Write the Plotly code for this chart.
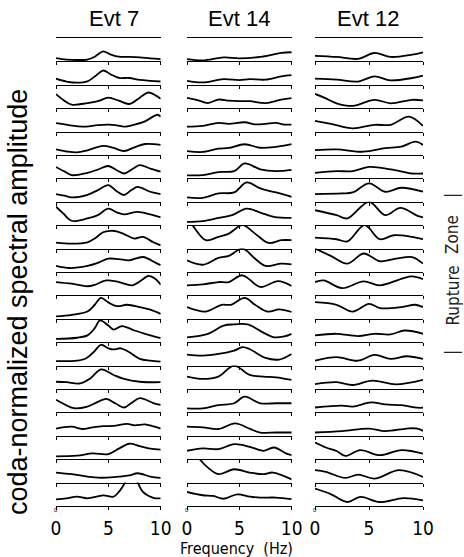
import plotly.graph_objects as go

# ---------------- data (frequency Hz, normalized amplitude per panel) ----------------
events = ["Evt 7", "Evt 14", "Evt 12"]
freq_ticks = [0, 5, 10]
freq_tick_labels = ["0", "5", "10"]

evt7 = [
    [(0,.14),(1,.08),(2,.06),(3,.08),(3.7,.2),(4.5,.43),(5.2,.3),(6,.2),(7,.19),(8,.17),(9,.13),(10,.1)],
    [(0,.26),(1,.14),(2,.09),(3,.15),(3.7,.35),(4.5,.61),(5.2,.45),(6,.3),(7,.29),(8,.21),(9,.17),(10,.14)],
    [(0,.6),(0.7,.35),(1.5,.15),(3,.22),(4,.3),(5,.45),(6,.32),(7,.18),(8,.45),(8.8,.67),(9.5,.55),(10,.4)],
    [(0,.36),(1.2,.28),(2.5,.21),(4,.28),(5,.3),(5.8,.27),(6.5,.21),(7.5,.3),(8.5,.44),(9.7,.72),(10,.63)],
    [(0,.24),(1,.15),(2,.11),(3,.2),(4.5,.39),(5.5,.3),(6.5,.17),(7.5,.33),(8.5,.47),(10,.43)],
    [(0,.49),(0.8,.3),(1.5,.14),(3,.24),(4,.38),(5,.53),(5.8,.35),(6.5,.21),(7.3,.4),(8,.57),(9,.42),(10,.29)],
    [(0,.33),(0.8,.26),(1.5,.19),(3,.3),(4,.5),(5,.71),(5.8,.45),(6.5,.29),(7.2,.5),(7.8,.64),(9,.43),(10,.33)],
    [(0,.79),(0.7,.5),(1.5,.19),(3,.29),(4,.43),(5,.71),(5.8,.55),(6.5,.46),(7.8,.57),(9,.46),(10,.33)],
    [(0,.26),(1.5,.21),(3,.27),(3.7,.43),(4.5,.7),(5.2,.76),(5.8,.74),(6.5,.62),(7.5,.43),(8.3,.5),(9.3,.27),(10,.14)],
    [(0,.26),(1.3,.17),(3,.26),(4,.39),(5,.57),(6,.55),(7,.5),(8.3,.64),(9.5,.4),(10,.29)],
    [(0,.57),(1.5,.5),(3,.39),(3.7,.45),(4.8,.64),(6,.57),(7.3,.43),(8.2,.66),(8.8,.83),(9.5,.7),(10,.46)],
    [(0,.1),(1.5,.17),(3,.31),(3.7,.6),(4.3,.89),(5,.7),(5.8,.54),(6.8,.6),(8,.5),(9,.39),(10,.21)],
    [(0,.14),(2,.19),(3,.29),(3.7,.6),(4.2,.93),(5,.71),(5.5,.54),(6.3,.69),(7.5,.5),(8.5,.36),(10,.17)],
    [(0,.19),(2,.21),(2.8,.29),(3.6,.58),(4.3,.89),(5,.74),(5.5,.69),(6.2,.74),(7,.57),(8,.29),(9,.21),(10,.17)],
    [(0,.31),(1,.29),(2.3,.24),(3.3,.46),(4.3,.84),(5.5,.6),(6.5,.43),(8,.31),(10,.29)],
    [(0,.54),(0.8,.35),(1.7,.18),(3,.25),(4,.45),(4.8,.58),(5.7,.38),(6.5,.21),(7.2,.4),(8,.61),(9.3,.4),(10,.32)],
    [(0,.31),(1.5,.39),(2.5,.29),(3.5,.36),(4.5,.41),(5.5,.42),(6.8,.51),(7.5,.45),(8.5,.49),(9.3,.4),(10,.31)],
    [(0,.12),(2,.15),(3.5,.25),(5,.22),(6,.45),(7,.66),(8,.56),(9,.45),(10,.41)],
    [(0,.43),(1.5,.36),(3,.26),(4,.21),(5.5,.23),(7,.31),(7.8,.4),(9,.26),(10,.2)],
    [(0,.28),(1,.33),(2,.4),(3,.33),(4.5,.45),(5.5,.4),(6,.6),(6.6,1.0),(7.2,1.5),(7.8,1.0),(8.3,.6),(9.3,.35),(10,.33)],
]

evt14 = [
    [(0,.1),(1.5,.04),(3.5,.17),(5,.13),(7,.19),(9,.36),(10,.39)],
    [(0,.17),(1.5,.1),(3.5,.24),(5,.2),(6,.24),(7.5,.22),(9,.36),(10,.41)],
    [(0,.44),(1,.35),(2,.22),(3,.37),(4,.32),(5,.3),(6,.3),(7.5,.22),(9,.37),(10,.43)],
    [(0,.21),(1.5,.24),(3,.37),(4,.33),(5.5,.4),(6.5,.31),(7.5,.33),(8.5,.37),(9.3,.3),(10,.3)],
    [(0,.17),(1.5,.13),(3,.27),(4,.3),(5.5,.46),(7,.31),(8.5,.35),(10,.46)],
    [(0,.13),(1.5,.14),(3,.27),(4.5,.31),(5.5,.64),(7,.39),(8.5,.31),(10,.36)],
    [(0,.19),(1.5,.17),(3,.36),(4.5,.4),(5.7,.83),(7,.57),(8.5,.4),(10,.21)],
    [(0,.14),(1.5,.17),(3,.31),(4.3,.43),(5.7,.71),(7,.54),(8.3,.36),(10,.31)],
    [(0,1.3),(0.6,.95),(1.8,.36),(3,.5),(4,.64),(5.3,1.0),(6.5,.64),(7.8,.24),(9,.36),(10,.36)],
    [(0,.5),(1.5,.31),(3,.6),(4,.69),(5.3,1.0),(6.5,.57),(7.5,.26),(9,.36),(10,.33)],
    [(0,.43),(1.5,.47),(3,.57),(4,.57),(5.3,.86),(7,.36),(8.7,.61),(10,.4)],
    [(0,.5),(1.8,.31),(3.3,.6),(4.2,.6),(5.5,.89),(6.5,.6),(7.7,.31),(8.8,.4),(10,.29)],
    [(0,.21),(2,.36),(3.5,.71),(4.5,.76),(5.8,.76),(7.2,.43),(8.3,.21),(9.3,.25),(10,.36)],
    [(0,.47),(1.5,.43),(3,.5),(4.5,.64),(5.3,.79),(6,.7),(7.5,.33),(8.8,.26),(10,.5)],
    [(0,.53),(1.5,.43),(3,.53),(4.5,1.0),(6,.6),(7.3,.53),(8.5,.5),(10,.39)],
    [(0,.17),(1.5,.17),(3,.31),(4.5,.39),(5.5,.67),(7,.39),(8.5,.39),(10,.39)],
    [(0,.39),(1.5,.36),(3,.29),(4.6,.53),(6,.3),(7,.14),(8.5,.14),(10,.14)],
    [(0,.36),(1.5,.46),(3,.43),(4.5,.64),(6,.53),(7.3,.36),(8.3,.5),(9.5,.24),(10,.17)],
    [(0,1.7),(0.7,1.3),(1.2,1.0),(2,.64),(3,.36),(4.5,.57),(6,.43),(7.3,.36),(8.2,.43),(10,.14)],
    [(0,.6),(1.5,.46),(2.5,.43),(3.5,.31),(4.8,.5),(6,.4),(7,.36),(8.5,.36),(10,.29)],
]

evt12 = [
    [(0,.24),(2,.19),(4,.11),(5.5,.36),(7,.19),(9,.29),(10,.39)],
    [(0,.26),(2,.22),(4,.14),(5.5,.36),(7,.19),(9,.29),(10,.39)],
    [(0,.61),(1,.42),(2,.21),(3.5,.1),(5.5,.36),(7,.21),(9,.36),(10,.33)],
    [(0,.46),(1.5,.33),(3.5,.14),(5.5,.29),(7,.29),(8.7,.64),(10,.24)],
    [(0,.21),(2,.24),(4.5,.14),(6.5,.29),(8,.36),(9.3,.57),(10,.43)],
    [(0,.24),(2,.31),(3.5,.31),(5,.49),(7,.39),(9,.21),(10,.21)],
    [(0,.33),(2.5,.36),(3.5,.4),(5,.79),(6.5,.43),(8,.6),(10,.43)],
    [(0,.64),(2,.43),(3,.29),(5,1.0),(6.5,.43),(7.9,.74),(9.5,.4),(10,.33)],
    [(0,.47),(2,.4),(3,.31),(4.6,1.0),(6,.4),(7.3,.57),(9,.5),(10,.4)],
    [(0,1.0),(1.5,.68),(3,.36),(4.5,.79),(6,.46),(7.5,.57),(9,.64),(10,.36)],
    [(0,.57),(0.8,.64),(2.5,.31),(4.5,.6),(6,.43),(8,.71),(9,.81),(10,.69)],
    [(0,.71),(2,.6),(3.5,.31),(5,.64),(6,.46),(8,.5),(9.3,.6),(10,.5)],
    [(0,.29),(2,.36),(4,.26),(5.5,.36),(7,.33),(8.3,.5),(10,.36)],
    [(0,.21),(2,.36),(4,.21),(5.5,.46),(7,.29),(8.5,.4),(10,.29)],
    [(0,.21),(2,.29),(3.5,.17),(5.3,.36),(7.5,.2),(10,.39)],
    [(0,.21),(2.5,.29),(3.5,.25),(5.2,.43),(6.5,.34),(8,.31),(9.5,.2),(10,.2)],
    [(0,.14),(2.5,.2),(5,.31),(6.5,.2),(8.5,.31),(9.5,.31),(10,.21)],
    [(0,.71),(1,.5),(2,.35),(2.8,.14),(4.2,.39),(6,.17),(8,.39),(10,.24)],
    [(0,.53),(1,.46),(2.8,.2),(4,.34),(5.5,.17),(7.8,.53),(10,.24)],
    [(0,.74),(1.5,.5),(3,.17),(4.2,.39),(6,.17),(8.2,.34),(10,.24)],
]

columns = [evt7, evt14, evt12]

# ---------------- layout geometry ----------------
W, H = 464, 557
L, R, T, B = 56, 41, 38, 51
PW, PH = W - L - R, H - T - B
NROWS = 20

def px(xp):
    return (xp - L) / PW

def py(yp):
    return (H - B - yp) / PH

col_px = [(56, 160.7), (187, 291.7), (315, 423)]
col_dom = [[max(0, px(a)), min(1, px(b))] for a, b in col_px]

narrow = "Liberation Sans Narrow, Arial Narrow, DejaVu Sans Condensed, Liberation Sans, sans-serif"

fig = go.Figure()
layout = {}
idx = 0
for c, curves in enumerate(columns):
    for r, pts in enumerate(curves):
        idx += 1
        sfx = "" if idx == 1 else str(idx)
        xs = [p[0] for p in pts]
        ys = [p[1] for p in pts]
        fig.add_trace(go.Scatter(
            x=xs, y=ys, mode="lines",
            line=dict(color="black", width=1.8, shape="spline", smoothing=1.0),
            xaxis="x" + sfx, yaxis="y" + sfx, showlegend=False, hoverinfo="skip",
        ))
        bottom = (r == NROWS - 1)
        layout["xaxis" + sfx] = dict(
            domain=col_dom[c], anchor="y" + sfx, range=[0, 10],
            showline=True, linecolor="black", linewidth=1,
            mirror=(r == 0), showgrid=False, zeroline=False,
            ticks="outside", ticklen=3, tickwidth=1, tickcolor="black",
            tickvals=freq_ticks, ticktext=freq_tick_labels,
            showticklabels=bottom,
            tickfont=dict(family=narrow, size=19, color="black"),
            ticklabelstandoff=2,
        )
        layout["yaxis" + sfx] = dict(
            domain=[1 - (r + 1) / NROWS, 1 - r / NROWS], anchor="x" + sfx,
            range=[0, 1], visible=False, fixedrange=True,
        )

annotations = []
title_cx = [113.5, 238.5, 367.5]
for name, cx in zip(events, title_cx):
    annotations.append(dict(text=name, x=px(cx), y=py(18.5), xref="paper", yref="paper",
                            showarrow=False, xanchor="center", yanchor="middle",
                            font=dict(family="Liberation Sans, Arial, sans-serif", size=22, color="black")))
# tiny zero labels below each column's origin
for a, b in col_px:
    annotations.append(dict(text="0", x=px(a), y=py(510), xref="paper", yref="paper",
                            showarrow=False, xanchor="center", yanchor="middle",
                            font=dict(family="Liberation Sans, sans-serif", size=6, color="black")))
annotations.append(dict(text="Frequency  (Hz)", x=px(236), y=py(548), xref="paper", yref="paper",
                        showarrow=False, xanchor="center", yanchor="middle",
                        font=dict(family=narrow, size=16, color="black")))
annotations.append(dict(text="coda-normalized spectral amplitude", x=px(18), y=py(302),
                        xref="paper", yref="paper", textangle=-90, showarrow=False,
                        xanchor="center", yanchor="middle",
                        font=dict(family="Liberation Sans, Arial, sans-serif", size=27, color="black")))
# Rupture Zone marker
for txt, yc in [("|", 196), ("Zone", 235), ("Rupture", 295.5), ("|", 353)]:
    annotations.append(dict(text=txt, x=px(452), y=py(yc), xref="paper", yref="paper",
                            textangle=-90, showarrow=False, xanchor="center", yanchor="middle",
                            font=dict(family=narrow, size=17, color="#222")))

fig.update_layout(
    width=W, height=H, margin=dict(l=L, r=R, t=T, b=B),
    paper_bgcolor="white", plot_bgcolor="white",
    annotations=annotations, **layout,
)
fig.write_html("out.html")
